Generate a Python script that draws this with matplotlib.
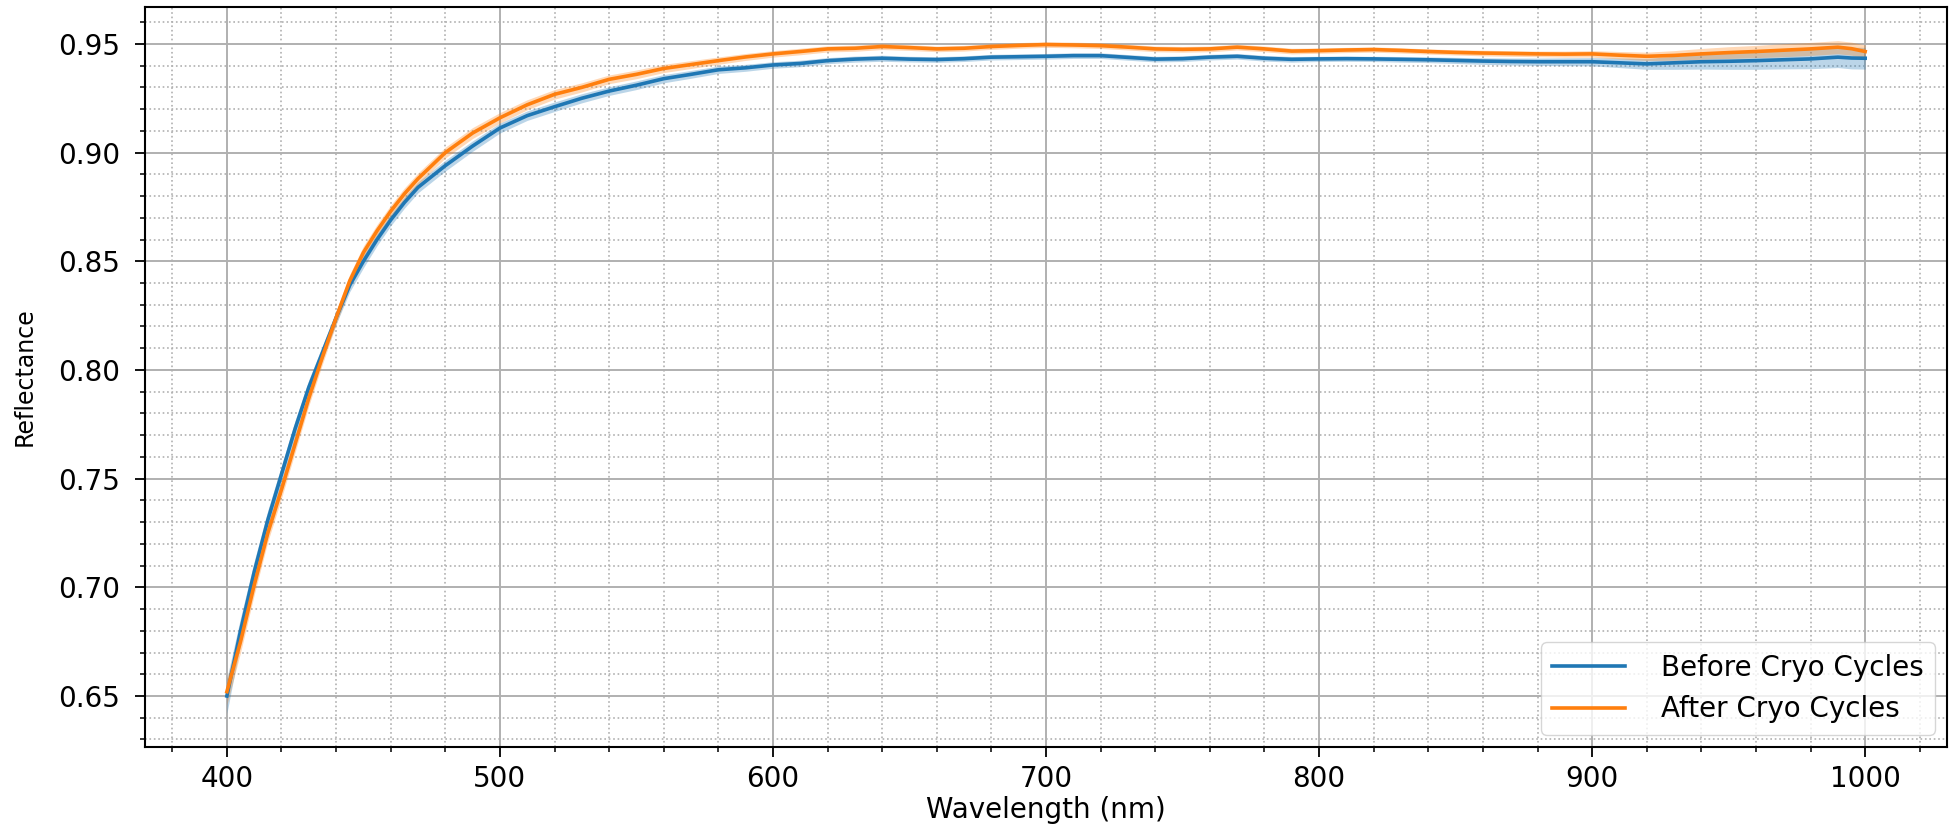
import matplotlib
matplotlib.use("Agg")
import matplotlib.pyplot as plt
from matplotlib.ticker import MultipleLocator

# wavelength samples (nm) and mean reflectance
wavelength = [400, 405, 410, 415, 420, 425, 430, 435, 440, 445, 450, 455, 460, 465,
              470, 480, 490, 500, 510, 520, 530, 540, 550, 560, 570, 580, 590, 600,
              610, 620, 630, 640, 650, 660, 670, 680, 690, 700, 710, 720, 730, 740,
              750, 760, 770, 780, 790, 800, 810, 820, 830, 840, 850, 860, 870, 880,
              890, 900, 910, 920, 930, 940, 950, 960, 970, 980, 990, 995, 1000]

before = [0.650, 0.680, 0.707, 0.731, 0.752, 0.773, 0.792, 0.808, 0.824, 0.839,
          0.850, 0.860, 0.869, 0.877, 0.884, 0.894, 0.903, 0.9113, 0.917, 0.9211,
          0.925, 0.9283, 0.931, 0.934, 0.936, 0.9381, 0.939, 0.9403, 0.941, 0.9423,
          0.943, 0.9434, 0.943, 0.9428, 0.9432, 0.9439, 0.9441, 0.9443, 0.9446, 0.9446,
          0.9438, 0.943, 0.9432, 0.9439, 0.9443, 0.9434, 0.9429, 0.9431, 0.9432, 0.9431,
          0.9429, 0.9427, 0.9424, 0.9421, 0.9419, 0.9418, 0.9418, 0.9418, 0.9413, 0.9408,
          0.9413, 0.9418, 0.9420, 0.9423, 0.9427, 0.9431, 0.9439, 0.9435, 0.9434]

after = [0.652, 0.675, 0.701, 0.725, 0.745, 0.766, 0.787, 0.806, 0.824, 0.841,
         0.854, 0.864, 0.873, 0.881, 0.888, 0.900, 0.909, 0.916, 0.922, 0.9268,
         0.930, 0.9337, 0.936, 0.9387, 0.9405, 0.9423, 0.944, 0.9454, 0.9465, 0.9477,
         0.948, 0.9488, 0.9483, 0.9477, 0.948, 0.9488, 0.9493, 0.9497, 0.9495, 0.9492,
         0.9485, 0.9477, 0.9475, 0.9477, 0.9485, 0.9477, 0.9467, 0.9469, 0.9472, 0.9474,
         0.947, 0.9465, 0.9461, 0.9458, 0.9456, 0.9454, 0.9453, 0.9454, 0.9448, 0.9443,
         0.9447, 0.9454, 0.9460, 0.9465, 0.9471, 0.9477, 0.9485, 0.9478, 0.9465]

# half width of the shaded spread
before_err = [0.008, 0.006, 0.005, 0.0045, 0.004, 0.0038, 0.0035, 0.0032, 0.003, 0.003,
              0.003, 0.0028, 0.0027, 0.0026, 0.0025, 0.0025, 0.0024, 0.0023, 0.0022, 0.0022,
              0.0021, 0.002, 0.002, 0.0019, 0.0018, 0.0017, 0.0016, 0.0015, 0.0015, 0.0014,
              0.0014, 0.0014, 0.0013, 0.0013, 0.0013, 0.0013, 0.0013, 0.0013, 0.0013, 0.0013,
              0.0013, 0.0013, 0.0013, 0.0013, 0.0013, 0.0013, 0.0013, 0.0012, 0.0012, 0.0012,
              0.0013, 0.0013, 0.0014, 0.0015, 0.0016, 0.0017, 0.0018, 0.0019, 0.0022, 0.0025,
              0.003, 0.0034, 0.0037, 0.004, 0.0042, 0.0045, 0.0048, 0.005, 0.005]

after_err = [0.006, 0.005, 0.0045, 0.004, 0.004, 0.0038, 0.0035, 0.0033, 0.0031, 0.003,
             0.003, 0.0029, 0.0028, 0.0027, 0.0026, 0.0025, 0.0025, 0.0024, 0.0023, 0.0022,
             0.0021, 0.002, 0.002, 0.0019, 0.0018, 0.0017, 0.0016, 0.0015, 0.0015, 0.0014,
             0.0014, 0.0014, 0.0013, 0.0013, 0.0013, 0.0013, 0.0013, 0.0013, 0.0013, 0.0013,
             0.0013, 0.0013, 0.0013, 0.0013, 0.0013, 0.0013, 0.0013, 0.0012, 0.0012, 0.0012,
             0.0012, 0.0012, 0.0012, 0.0013, 0.0013, 0.0013, 0.0014, 0.0015, 0.0017, 0.0019,
             0.0022, 0.0025, 0.0027, 0.0028, 0.003, 0.003, 0.003, 0.003, 0.003]

labels = ["Before Cryo Cycles", "After Cryo Cycles"]

fig, ax = plt.subplots(figsize=(19.51, 8.24), dpi=100)
fig.subplots_adjust(left=0.0743, right=0.998, bottom=0.0934, top=0.9915)

for mean, err, color, label in [(before, before_err, "tab:blue", labels[0]),
                                (after, after_err, "tab:orange", labels[1])]:
    lo = [m - e for m, e in zip(mean, err)]
    hi = [m + e for m, e in zip(mean, err)]
    ax.fill_between(wavelength, lo, hi, color=color, alpha=0.3, linewidth=0)
    ax.plot(wavelength, mean, color=color, linewidth=2.6, label=label)

ax.xaxis.set_major_locator(MultipleLocator(100))
ax.xaxis.set_minor_locator(MultipleLocator(20))
ax.yaxis.set_major_locator(MultipleLocator(0.05))
ax.yaxis.set_minor_locator(MultipleLocator(0.01))

ax.grid(which="major", color="#b0b0b0", linestyle="-", linewidth=1.4)
ax.grid(which="minor", color="#b0b0b0", linestyle=":", linewidth=1.2)
ax.set_axisbelow(True)

ax.tick_params(which="major", length=7, width=1.3, labelsize=20)
ax.tick_params(which="minor", length=3.5, width=1.1)
ax.tick_params(axis="x", which="major", pad=6)
ax.tick_params(axis="y", which="major", pad=11)
for s in ax.spines.values():
    s.set_linewidth(1.5)

ax.set_xlabel("Wavelength (nm)", fontsize=20)
ax.set_ylabel("Reflectance", fontsize=17)
ax.xaxis.set_label_coords(0.5, -0.066)
ax.yaxis.set_label_coords(-0.060, 0.5)

ax.legend(loc="lower right", fontsize=20, handlelength=2.6, handletextpad=1.3,
          borderaxespad=0.45)

fig.savefig("out.png", dpi=100)
